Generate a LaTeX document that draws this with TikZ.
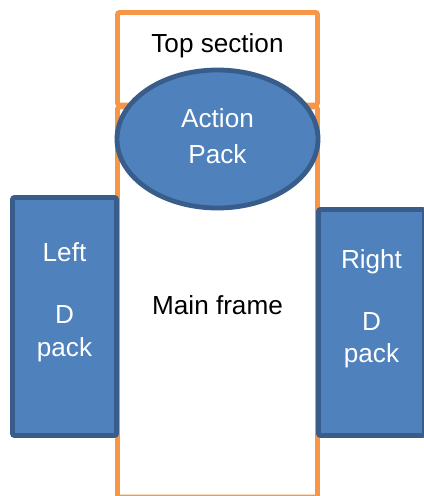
\documentclass[tikz,border=0pt]{standalone}
\usepackage{fontspec}
\setmainfont{Liberation Sans}
\usepackage{tikz}
\usetikzlibrary{shapes.geometric}
\definecolor{packfill}{RGB}{79,129,189}
\definecolor{packline}{RGB}{56,93,138}
\definecolor{frameline}{RGB}{247,150,70}

\begin{document}
\begin{tikzpicture}[x=0.75pt, y=-0.75pt,
    frame/.style={draw=frameline, line width=3.6pt, rounded corners=1.5pt, inner sep=0pt},
    pack/.style={draw=packline, fill=packfill, line width=3.6pt, rounded corners=1.5pt, inner sep=0pt},
    packtext/.style={text=white, align=center, inner sep=0pt, font=\fontsize{19.6}{24.5}\selectfont},
    frametext/.style={text=black, inner sep=0pt, anchor=base, font=\fontsize{19.6}{24}\selectfont}]

    \useasboundingbox (0,0) rectangle (424,496);

    % orange frame
    \node[frame, minimum width=150pt, minimum height=69.4pt] (top) at (217.5,58.75) {};
    \node[frame, minimum width=150pt, minimum height=292.5pt] (main) at (217.5,302) {};
    \node[frametext] (topText) at (217.5,52) {Top section};
    \node[frametext] (mainText) at (217.5,314) {Main frame};

    % packs
    \node[pack, ellipse, minimum width=150.75pt, minimum height=103.5pt,
          packtext, font=\fontsize{19.6}{27}\selectfont, text depth=5pt] (action) at (217.5,139) {Action\\Pack};

    \node[pack, minimum width=78pt, minimum height=178.5pt] (left) at (64.5,316.5) {};
    \node[packtext, anchor=north] (leftText) at (64.5,242.6) {Left\\[22pt]D\\pack};

    \node[pack, minimum width=79.5pt, minimum height=169.5pt] (right) at (371.5,322.5) {};
    \node[packtext, anchor=north] (rightText) at (371.5,249) {Right\\[22pt]D\\pack};

\end{tikzpicture}
\end{document}
